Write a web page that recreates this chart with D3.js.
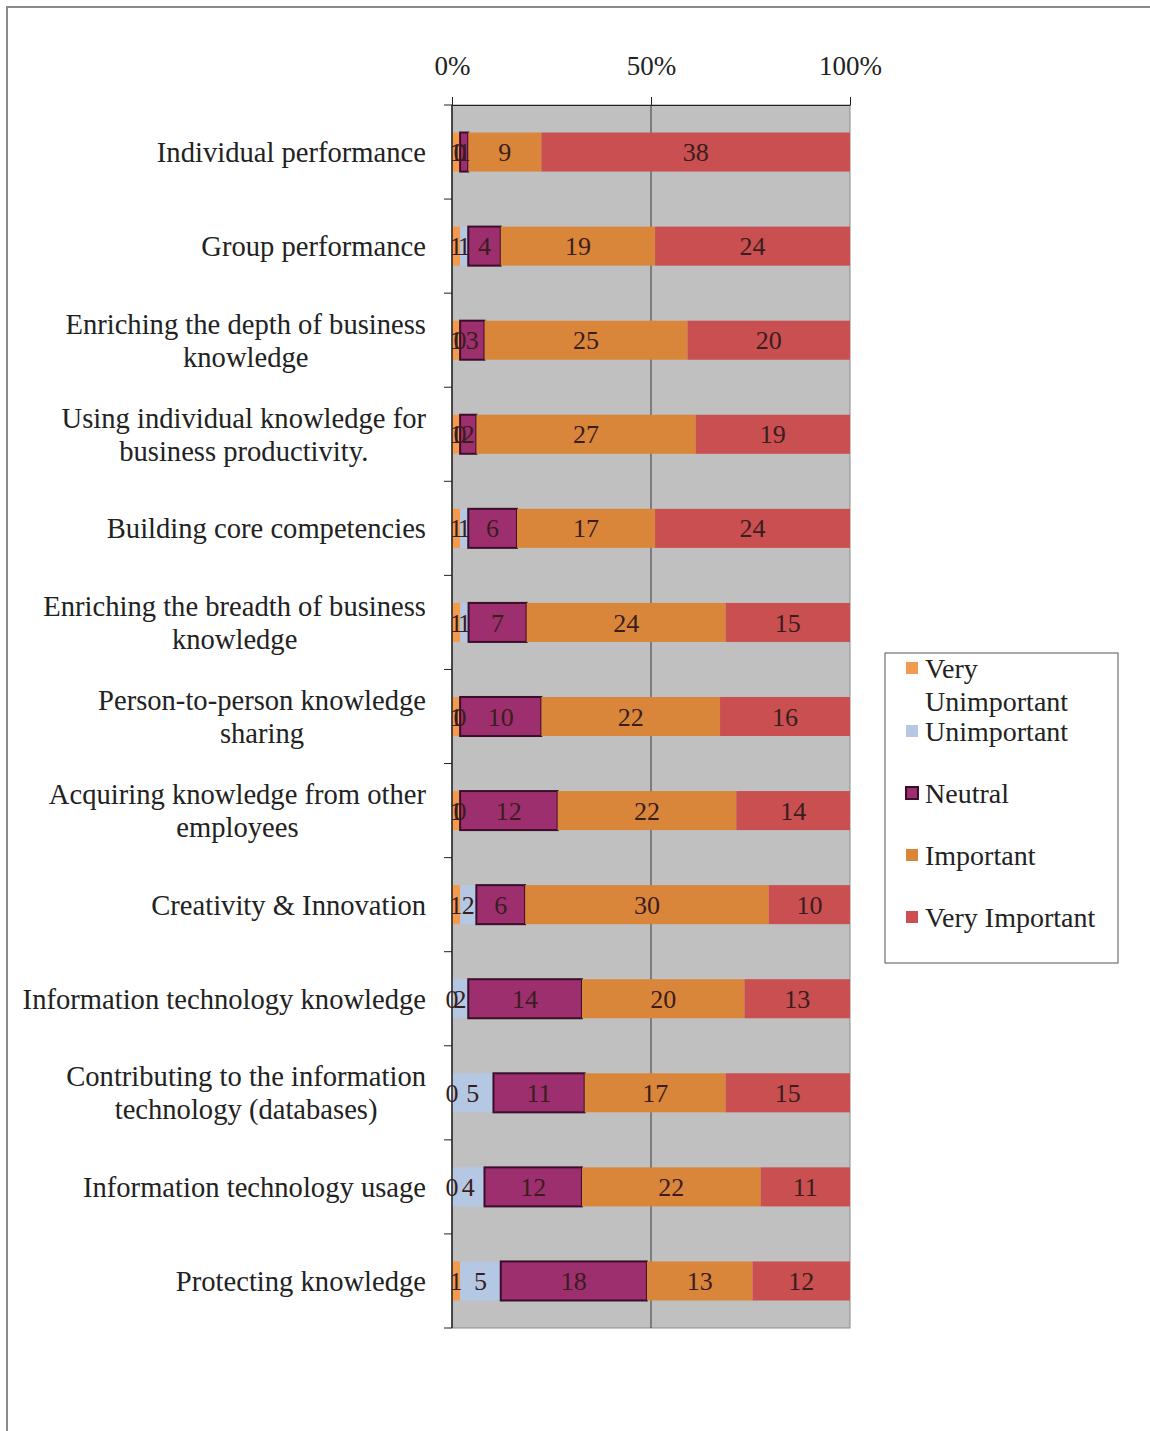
<!DOCTYPE html>
<html>
<head>
<meta charset="utf-8">
<script src="https://cdn.jsdelivr.net/npm/d3@7"></script>
<style>
  body { margin: 0; background: #fff; }
  text { font-family: "Liberation Serif", "Times New Roman", serif; }
</style>
</head>
<body>
<svg id="chart" width="1150" height="1431"></svg>
<script>
const categories = [
  'Individual performance',
  'Group performance',
  'Enriching the depth of business\nknowledge',
  'Using individual knowledge for\nbusiness productivity.',
  'Building core competencies',
  'Enriching the breadth of business\nknowledge',
  'Person-to-person knowledge\nsharing',
  'Acquiring knowledge from other\nemployees',
  'Creativity & Innovation',
  'Information technology knowledge',
  'Contributing to the information\ntechnology (databases)',
  'Information technology usage',
  'Protecting knowledge',
]
const seriesNames = ['Very Unimportant', 'Unimportant', 'Neutral', 'Important', 'Very Important']
const veryUnimportant = [1, 1, 1, 1, 1, 1, 1, 1, 1, 0, 0, 0, 1]
const unimportant = [0, 1, 0, 0, 1, 1, 0, 0, 2, 2, 5, 4, 5]
const neutral = [1, 4, 3, 2, 6, 7, 10, 12, 6, 14, 11, 12, 18]
const important = [9, 19, 25, 27, 17, 24, 22, 22, 30, 20, 17, 22, 13]
const veryImportant = [38, 24, 20, 19, 24, 15, 16, 14, 10, 13, 15, 11, 12]
const tickValues = [0, 0.5, 1]
const legendLabels = [['Very', 'Unimportant'], ['Unimportant'], ['Neutral'], ['Important'], ['Very Important']]

const colors = ['#f39a4e', '#b5c8e3', '#9e2f6f', '#d9853a', '#c94f50']
const series = [veryUnimportant, unimportant, neutral, important, veryImportant]
const margin = { top: 105, left: 452, right: 300, bottom: 103 }
const width = 1150, height = 1431

const svg = d3.select('#chart')

// page frame
svg.append('path')
  .attr('d', `M7,${height} V7 H${width}`)
  .attr('fill', 'none')
  .attr('stroke', '#8a8a8a')
  .attr('stroke-width', 2)

const x = d3.scaleLinear().domain([0, 1]).range([margin.left, width - margin.right])
const y = d3.scaleBand()
  .domain(categories)
  .range([margin.top, height - margin.bottom])
  .paddingInner(0.585)
  .paddingOuter(0.2925)

// plot background
svg.append('rect')
  .attr('x', x(0)).attr('y', margin.top)
  .attr('width', x(1) - x(0)).attr('height', height - margin.bottom - margin.top)
  .attr('fill', '#c0c0c0')
  .attr('stroke', '#8c8c8c')

// 50% gridline
svg.append('line')
  .attr('x1', x(0.5)).attr('x2', x(0.5))
  .attr('y1', margin.top).attr('y2', height - margin.bottom)
  .attr('stroke', '#3a3a3a')

// stacked rows
const rows = categories.map((c, i) => {
  const vals = series.map((s) => s[i])
  const total = d3.sum(vals)
  let acc = 0
  return vals.map((v, k) => {
    const seg = { cat: c, k, v, x0: acc / total, x1: (acc + v) / total }
    acc += v
    return seg
  })
})
const segs = rows.flat()

svg.append('g').selectAll('rect')
  .data(segs.filter((d) => d.v > 0))
  .join('rect')
  .attr('x', (d) => x(d.x0))
  .attr('y', (d) => y(d.cat))
  .attr('width', (d) => x(d.x1) - x(d.x0))
  .attr('height', y.bandwidth())
  .attr('fill', (d) => colors[d.k])
  .attr('stroke', (d) => (d.k === 2 ? '#3a0e2a' : 'none'))
  .attr('stroke-width', 2)

svg.append('g').selectAll('text')
  .data(segs)
  .join('text')
  .attr('x', (d) => (x(d.x0) + x(d.x1)) / 2)
  .attr('y', (d) => y(d.cat) + y.bandwidth() / 2)
  .attr('dy', '0.35em')
  .attr('text-anchor', 'middle')
  .attr('font-size', 26)
  .attr('fill', '#3a1d1d')
  .text((d) => d.v)

// top axis
const xAxis = svg.append('g')
  .attr('transform', `translate(0,${margin.top})`)
  .call(d3.axisTop(x).tickValues(tickValues).tickFormat(d3.format('.0%')).tickSize(8).tickSizeOuter(0).tickPadding(22))
xAxis.select('.domain').attr('stroke', '#222')
xAxis.selectAll('.tick line').attr('stroke', '#222')
xAxis.selectAll('.tick text')
  .attr('font-size', 27)
  .attr('font-family', '"Liberation Serif", serif')
  .attr('fill', '#222')

// left axis line and boundary ticks
const gap = (y.step() - y.bandwidth()) / 2
const bounds = categories.map((c) => y(c) - gap).concat([height - margin.bottom])
svg.append('line')
  .attr('x1', x(0)).attr('x2', x(0))
  .attr('y1', margin.top).attr('y2', height - margin.bottom)
  .attr('stroke', '#222').attr('stroke-width', 1.5)
svg.append('g').selectAll('line')
  .data(bounds)
  .join('line')
  .attr('x1', x(0) - 8).attr('x2', x(0))
  .attr('y1', (d) => d).attr('y2', (d) => d)
  .attr('stroke', '#222')

// category labels: lines centered on each other, block right-aligned
const labelRight = 426
categories.forEach((c) => {
  const lines = c.split('\n')
  const cy = y(c) + y.bandwidth() / 2
  const t = svg.append('text')
    .attr('font-size', 28.6)
    .attr('fill', '#222')
    .attr('text-anchor', 'middle')
  lines.forEach((ln, j) => {
    t.append('tspan')
      .attr('y', cy + (j - (lines.length - 1) / 2) * 33)
      .attr('dy', '0.35em')
      .text(ln)
  })
  let w = 0
  t.selectAll('tspan').each(function () { w = Math.max(w, this.getComputedTextLength()) })
  t.selectAll('tspan').attr('x', labelRight - w / 2)
})

// legend
const legend = svg.append('g')
legend.append('rect')
  .attr('x', 885).attr('y', 653)
  .attr('width', 233).attr('height', 310)
  .attr('fill', '#fff')
  .attr('stroke', '#555')
legendLabels.forEach((lines, i) => {
  const ly = i === 0 ? 668 : 731 + (i - 1) * 62
  legend.append('rect')
    .attr('x', 906).attr('y', ly - 6)
    .attr('width', 12).attr('height', 12)
    .attr('fill', colors[i])
    .attr('stroke', i === 2 ? '#3a0e2a' : 'none')
    .attr('stroke-width', 2)
  lines.forEach((ln, j) => {
    legend.append('text')
      .attr('x', 925).attr('y', ly + j * 33)
      .attr('dy', '0.35em')
      .attr('font-size', 28)
      .attr('fill', '#222')
      .text(ln)
  })
})
</script>
</body>
</html>
